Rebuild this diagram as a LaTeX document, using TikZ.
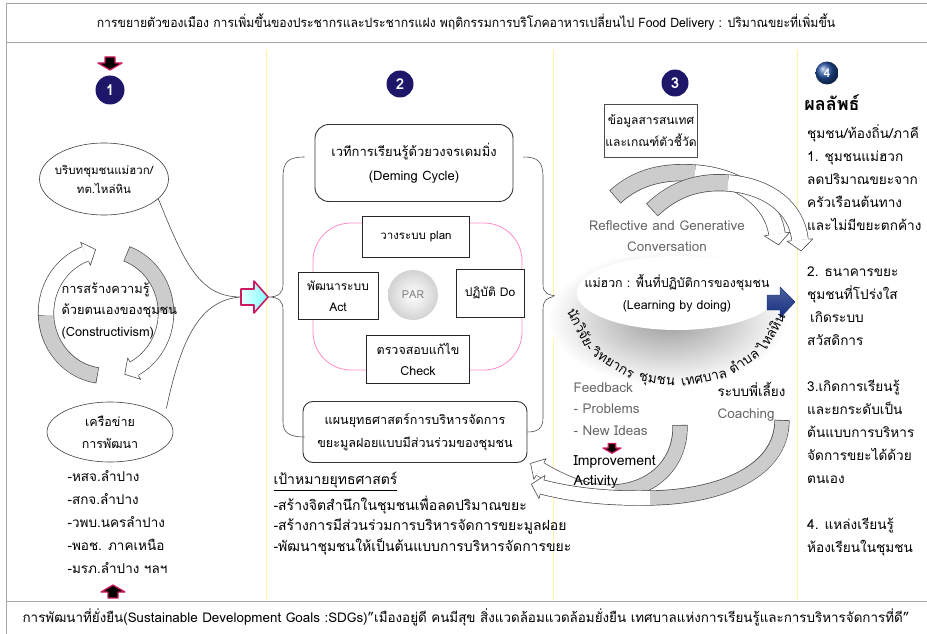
\documentclass[tikz,border=0pt]{standalone}
\usepackage{fontspec}
\setmainfont{Loma}[Script=Thai]
\newfontfamily\bannerfont{Loma}[Script=Thai,FakeStretch=0.94]
\usepackage{xcolor}
\definecolor{navy-num}{RGB}{30,22,105}
\definecolor{blue-num}{RGB}{35,80,160}
\definecolor{pdca-pink}{RGB}{255,140,200}
\definecolor{mag-edge}{RGB}{205,25,95}
\definecolor{sep-yellow}{RGB}{255,244,160}
\definecolor{arrow-navy}{RGB}{18,45,125}
\usepackage{tikz}
\usetikzlibrary{shapes.geometric,calc}

% head of a ribbon arrow: end point, point before it, ribbon width
\newcommand{\bandhead}[3]{%
  \fill[white] ($(#1)!#3pt/2+5pt!90:(#2)$) -- ($(#1)!-11pt!(#2)$) -- ($(#1)!#3pt/2+5pt!-90:(#2)$) -- cycle;
  \draw[black!70, line width=0.6pt, line join=round]
    ($(#1)!#3pt/2+0.6pt!90:(#2)$) -- ($(#1)!#3pt/2+5pt!90:(#2)$) -- ($(#1)!-11pt!(#2)$)
    -- ($(#1)!#3pt/2+5pt!-90:(#2)$) -- ($(#1)!#3pt/2+0.6pt!-90:(#2)$);
}
% ribbon arrow along two curves: width, start, c1, c2, split, c3, c4, end
\newcommand{\ribbon}[8]{%
  \draw[black!70, line width=#1pt+1.2pt] (#2) .. controls (#3) and (#4) .. (#5) .. controls (#6) and (#7) .. (#8);
  \draw[gray!40, line width=#1pt-0.2pt, shorten <=0.7pt] (#2) .. controls (#3) and (#4) .. (#5);
  \draw[white, line width=#1pt-0.2pt] (#5) .. controls (#6) and (#7) .. (#8);
  \bandhead{#8}{#7}{#1}
}
% ribbon arrow along an elliptic arc: centre, x radius, y radius, start, split, end, width
\newcommand{\roundribbon}[7]{%
  \coordinate (rr-a) at ($(#1)+(#4:#2 and #3)$);
  \coordinate (rr-m) at ($(#1)+(#5:#2 and #3)$);
  \coordinate (rr-e) at ($(#1)+(#6:#2 and #3)$);
  \coordinate (rr-p) at ($(#1)+(#6-4:#2 and #3)$);
  \draw[black!70, line width=#7pt+1.2pt] (rr-a) arc[start angle=#4, end angle=#6, x radius=#2, y radius=#3];
  \draw[gray!40, line width=#7pt-0.2pt, shorten <=0.7pt] (rr-a) arc[start angle=#4, end angle=#5, x radius=#2, y radius=#3];
  \draw[white, line width=#7pt-0.2pt] (rr-m) arc[start angle=#5, end angle=#6, x radius=#2, y radius=#3];
  \bandhead{rr-e}{rr-p}{#7}
}
\newcommand{\fs}[2]{\fontsize{#1}{#2}\selectfont}

\tikzset{
  frame-line/.style={gray!70, line width=0.9pt},
  numball/.style={circle, fill=navy-num, text=white, font=\bfseries\fs{15}{15}, inner sep=0pt, minimum size=27},
  sqbox/.style={draw=black!85, line width=0.9pt, fill=white, align=center, inner sep=1pt},
  rbox/.style={draw=black!80, line width=0.9pt, fill=white, align=center, rounded corners=12pt},
  oval/.style={ellipse, draw=black!75, line width=0.6pt, fill=white, inner sep=0pt},
  brace-line/.style={black!70, line width=0.6pt},
  grey-text/.style={text=black!60},
  pics/dropmark/.style={code={
    \draw[fill=black, draw=mag-edge, line width=1.3pt, line join=round]
      (-5,-6) -- (5,-6) -- (5,0) -- (12,0) -- (0,7) -- (-12,0) -- (-5,0) -- cycle;
  }},
}

\begin{document}
\begin{tikzpicture}[x=1pt, y=-1pt, font=\fs{13.5}{16}]
	\useasboundingbox (0,0) rectangle (927,634);
	
	% frame and banners
	\draw[frame-line] (927,3) -- (6,3) -- (6,634);
	\draw[frame-line] (6,42) -- (927,42);
	\draw[frame-line] (6,601) -- (927,601);
	\foreach \xs in {266,553,797}
	\draw[sep-yellow, line width=0.8pt] (\xs,50) -- (\xs,600);
	
	\node[font=\bannerfont\fs{13}{15}] (top-banner) at (466,22)
	{การขยายตัวของเมือง การเพิ่มขึ้นของประชากรและประชากรแฝง พฤติกรรมการบริโภคอาหารเปลี่ยนไป Food Delivery : ปริมาณขยะที่เพิ่มขึ้น};
	\node[font=\fs{13.4}{15}] (bottom-banner) at (466,617)
	{การพัฒนาที่ยั่งยืน(Sustainable Development Goals :SDGs)"เมืองอยู่ดี คนมีสุข สิ่งแวดล้อมแวดล้อมยั่งยืน เทศบาลแห่งการเรียนรู้และการบริหารจัดการที่ดี"};
	
%	================================================ column 1
	\pic at (110,63) {dropmark};
	\node[numball, minimum size=29] (n1) at (110,90) {1};
	
	\roundribbon{106,313}{60}{63}{98}{178}{250}{15}
	\roundribbon{106,313}{60}{63}{-70}{0}{62}{15}
	
	\node[oval, minimum width=129, minimum height=72] (context) at (104,179) {};
	\node[align=center, font=\fs{11.5}{19}] (context-text) at (context) {บริบทชุมชนแม่ฮวก/\\ทต.ไหล่หิน};
	\node[anchor=north west, align=left, font=\fs{12.8}{21.5}] (construct) at (58,279)
	{การสร้างความรู้\\ด้วยตนเองของชุมชน\\(Constructivism)};
	\node[oval, minimum width=126, minimum height=60] (network) at (110,432) {};
	\node[align=center, font=\fs{12.5}{22}] (network-text) at (network) {เครือข่าย\\การพัฒนา};
	\node[anchor=north west, align=left, font=\fs{13.5}{23}] (partners) at (64,467)
	{-หสจ.ลำปาง\\-สกจ.ลำปาง\\-วพบ.นครลำปาง\\-พอช. ภาคเหนือ\\-มรภ.ลำปาง ฯลฯ};
	\pic[yscale=-1] at (113,592) {dropmark};
	
	% arrow into column 2
	\coordinate (inarrow-tail) at (241,297);
	\coordinate (inarrow-tip) at (268,297);
	\draw[brace-line] (context.-20) .. controls (185,265) and (200,297) .. (inarrow-tail)
	.. controls (197,300) and (180,345) .. ($(network.22)+(8,-4)$);
	\draw[mag-edge, line width=1.6pt, line join=round, left color=cyan!10, right color=cyan!50]
	(inarrow-tail) ++(0,-8) -- (254,289) -- (254,281) -- (inarrow-tip) -- (254,313) -- (254,305) -- (241,305) -- cycle;
	
%	================================================ column 2
	\node[numball] (n2) at (400,84) {2};
	\draw[pdca-pink, line width=0.8pt, rounded corners=38pt] (313,223) rectangle (522,370);
	
	\node[rbox, minimum width=198, minimum height=77, rounded corners=14pt, font=\fs{13}{24}] (deming) at (414,163)
	{เวทีการเรียนรู้ด้วยวงจรเดมมิ่ง\\(Deming Cycle)};
	\node[sqbox, minimum width=107, minimum height=41, font=\fs{11.5}{13}] (plan) at (416,237) {วางระบบ plan};
	\node[sqbox, minimum width=80, minimum height=47, font=\fs{12}{21}] (act) at (338,296) {พัฒนาระบบ\\Act};
	\node[sqbox, minimum width=68, minimum height=48, font=\fs{12}{14}] (do) at (490,293) {ปฏิบัติ Do};
	\node[sqbox, minimum width=103, minimum height=48, font=\fs{12.5}{21}] (check) at (418,359) {ตรวจสอบแก้ไข\\Check};
	\node[circle, minimum size=50, inner color=white, outer color=gray!35, text=gray, font=\fs{11}{13}] (par) at (413,295) {PAR};
	\node[rbox, minimum width=224, minimum height=61, rounded corners=10pt, font=\fs{12.6}{23}] (strategy) at (415,432)
	{แผนยุทธศาสตร์การบริหารจัดการ\\ขยะมูลฝอยแบบมีส่วนร่วมของชุมชน};
	
	\coordinate (lab-tip) at (562,296);
	\draw[brace-line] ($(deming.west)+(-10,-6)$) .. controls (288,157) and (283,162) .. (283,177) -- (283,284)
	.. controls (283,293) and (279,297) .. (inarrow-tip)
	.. controls (279,297) and (283,301) .. (283,310) -- (283,422)
	.. controls (283,433) and (290,437) .. ($(strategy.west)+(2,5)$);
	\draw[brace-line] ($(deming.east)+(10,-6)$) .. controls (538,157) and (543,162) .. (543,177) -- (543,284)
	.. controls (543,293) and (547,296) .. (lab-tip)
	.. controls (547,296) and (543,300) .. (543,310) -- (543,418)
	.. controls (543,428) and (538,432) .. (strategy.east);
	
	\node[anchor=north west, align=left, font=\fs{14}{20.5}] (goals) at (270,469)
	{\underline{เป้าหมายยุทธศาสตร์}\\[5pt]-สร้างจิตสำนึกในชุมชนเพื่อลดปริมาณขยะ\\-สร้างการมีส่วนร่วมการบริหารจัดการขยะมูลฝอย\\-พัฒนาชุมชนให้เป็นต้นแบบการบริหารจัดการขยะ};
	
%	================================================ column 3
	\node[numball] (n3) at (675,83) {3};
	\node[sqbox, draw=black!70, line width=0.6pt, minimum width=82, minimum height=53, font=\fs{12}{22}] (info) at (651,131)
	{ข้อมูลสารสนเทศ\\และเกณฑ์ตัวชี้วัด};
	
	\ribbon{16}{615,197}{638,176}{665,171}{695,173}{738,176}{772,200}{777,234}
	\ribbon{16}{652,210}{675,188}{700,181}{728,183}{768,186}{797,208}{800,240}
	
	\shade[inner color=gray!80, outer color=white] (668,318) ellipse [x radius=120, y radius=68];
	\node[ellipse, fill=white, minimum width=200, minimum height=74] (lab) at (677,293) {};
	\node[align=center, font=\fs{12.4}{22}] (lab-text) at (lab) {แม่ฮวก : พื้นที่ปฏิบัติการของชุมชน\\(Learning by doing)};
	\node[grey-text, align=center, font=\fs{13.5}{21}] (reflect) at (667,236)
	{Reflective and Generative\\Conversation};
	\draw[arrow-navy, line join=round, top color=arrow-navy!75, bottom color=arrow-navy]
	(767,295) -- (780,295) -- (780,287) -- (795,302) -- (780,318) -- (780,310) -- (767,310) -- cycle;
	
	\foreach \word/\ang [count=\i] in {นักวิจัย-/158, วิทยากร/128, ชุมชน/101, เทศบาล/75, ตำบล/50, ไหล่หิน/24}{
		\pgfmathsetmacro\rot{atan2(85*cos(\ang),108*sin(\ang))}
		\node[rotate=\rot, anchor=base, inner sep=0pt, font=\fs{13.5}{16}] (rim-\i) at ($(677,300)+(\ang:108 and 85)$) {\word};
	}
	
	\ribbon{14}{680,425}{681,462}{655,489}{615,492}{588,494}{562,482}{540,469}
	\ribbon{14}{782,420}{782,472}{720,497}{650,498}{600,499}{565,493}{542,487}
	
	\node[grey-text, anchor=north west, align=left, font=\fs{13.5}{21.5}] (feedback) at (570,379)
	{Feedback\\- Problems\\- New Ideas};
	\pic[scale=0.75] at (612,448) {dropmark};
	\node[anchor=north west, align=left, font=\fs{14}{20}] (improve) at (570,452)
	{Improvement\\Activity};
	\node[anchor=north west, align=left, font=\fs{13.5}{21.5}] (coach) at (714,379)
	{ระบบพี่เลี้ยง\\\textcolor{black!60}{Coaching}};
	
%	================================================ column 4
	\node[circle, ball color=blue-num, text=white, font=\bfseries\fs{12}{12}, inner sep=0pt, minimum size=23] (n4) at (827,73) {4};
	\node[font=\bfseries\fs{18}{20}] (result-head) at (832,103) {ผลลัพธ์};
	\node[anchor=north west, align=left, inner xsep=1pt, font=\fs{13.6}{23}] (results) at (806,121)
	{ชุมชน/ท้องถิ่น/ภาคี\\1. ชุมชนแม่ฮวก\\ลดปริมาณขยะจาก\\ครัวเรือนต้นทาง\\และไม่มีขยะตกค้าง\\[23pt]
		2. ธนาคารขยะ\\ชุมชนที่โปร่งใส\\\hspace*{3pt}เกิดระบบ\\สวัสดิการ\\[23pt]
		3.เกิดการเรียนรู้\\และยกระดับเป็น\\ต้นแบบการบริหาร\\จัดการขยะได้ด้วย\\ตนเอง\\[23pt]
		4. แหล่งเรียนรู้\\ห้องเรียนในชุมชน};
	
\end{tikzpicture}
\end{document}
